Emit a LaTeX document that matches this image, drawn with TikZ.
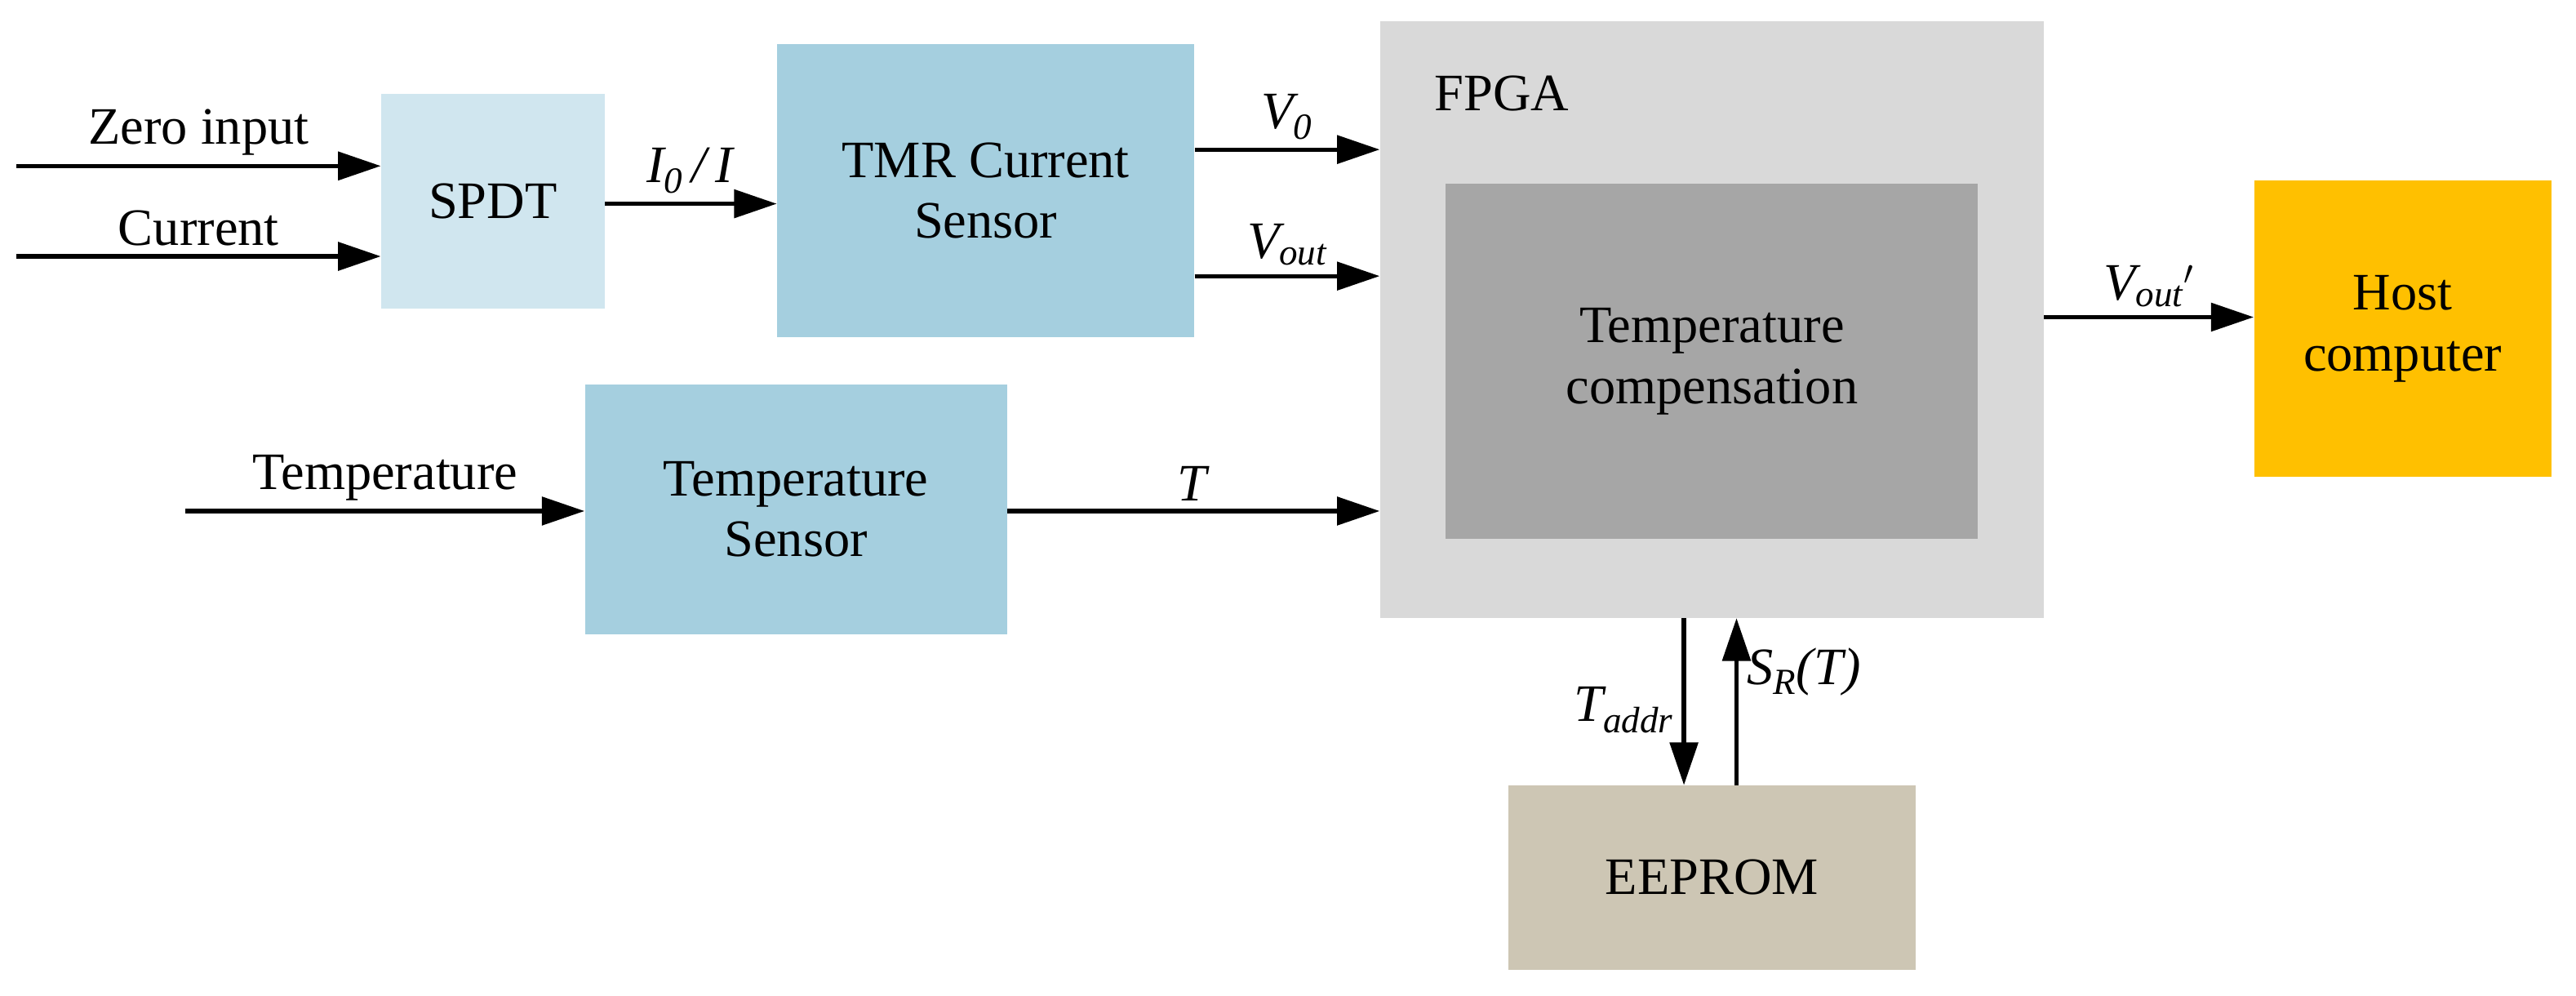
\documentclass[tikz,border=0pt]{standalone}
\usepackage{fontspec}
\setmainfont{Liberation Serif}
\usetikzlibrary{arrows.meta}
\begin{document}
\begin{tikzpicture}[x=1pt,y=-1pt,
  box/.style={draw=none,inner sep=0pt,align=center,font=\fontsize{32}{37}\selectfont},
  arr/.style={line width=2.6pt,-{Triangle[length=26pt,width=17pt]}},
  lbl/.style={font=\fontsize{32}{37}\selectfont,inner sep=0pt}]
\useasboundingbox (0,0) rectangle (1568,606);
\definecolor{spdt}{HTML}{D0E6EF}
\definecolor{sens}{HTML}{A5CFDF}
\node[box,fill=spdt,minimum width=136pt,minimum height=131pt] (spdt) at (300,122.5) {SPDT};
\node[box,fill=sens,minimum width=254pt,minimum height=178pt] (tmr) at (600,116) {TMR Current\\Sensor};
\node[box,fill=sens,minimum width=257pt,minimum height=152pt] (ts) at (484.5,310) {Temperature\\Sensor};
\node[box,fill={rgb,255:red,217;green,217;blue,217},minimum width=404pt,minimum height=363pt] (fpga) at (1042,194.5) {};
\node[lbl,anchor=west] (fl) at (873,57) {FPGA};
\node[box,fill={rgb,255:red,166;green,166;blue,166},minimum width=324pt,minimum height=216pt] (tc) at (1042,220) {Temperature\\compensation};
\node[box,fill={rgb,255:red,255;green,192;blue,0},minimum width=181pt,minimum height=180pt] (host) at (1462.5,200) {Host\\computer};
\node[box,fill={rgb,255:red,205;green,198;blue,180},minimum width=248pt,minimum height=112pt] (ee) at (1042,534) {EEPROM};
\coordinate (z) at (10,101);
\coordinate (c) at (10,156);
\coordinate (tin) at (113,311);
\draw[arr] (z) -- (z -| spdt.west) node[lbl,midway,above=5pt] {Zero input};
\draw[arr] (c) -- (c -| spdt.west) node[lbl,midway,above=5pt] {Current};
\draw[arr] (spdt.east |- 0,124) -- (tmr.west |- 0,124) node[lbl,midway,above=5pt] {\textit{I\textsubscript{0}\,/\,I}};
\draw[arr] (tmr.east |- 0,91) -- (fpga.west |- 0,91) node[lbl,midway,above=5pt] {\textit{V\textsubscript{0}}};
\draw[arr] (tmr.east |- 0,168) -- (fpga.west |- 0,168) node[lbl,midway,above=5pt] {\textit{V\textsubscript{out}}};
\draw[arr] (tin) -- (tin -| ts.west) node[lbl,midway,above=5pt] {Temperature};
\draw[arr] (ts.east |- 0,311) -- (fpga.west |- 0,311) node[lbl,midway,above=5pt] {\textit{T}};
\draw[arr] (fpga.east |- 0,193) -- (host.west |- 0,193) node[lbl,midway,above=5pt] {\textit{V\textsubscript{out}$'$}};
\draw[arr] (fpga.south -| 1025,0) -- (ee.north -| 1025,0) node[lbl,pos=0.55,left=5pt] {\textit{T\textsubscript{addr}}};
\draw[arr] (ee.north -| 1057,0) -- (fpga.south -| 1057,0) node[lbl,pos=0.68,right=5pt] {\textit{S\textsubscript{R}(T)}};
\end{tikzpicture}
\end{document}
